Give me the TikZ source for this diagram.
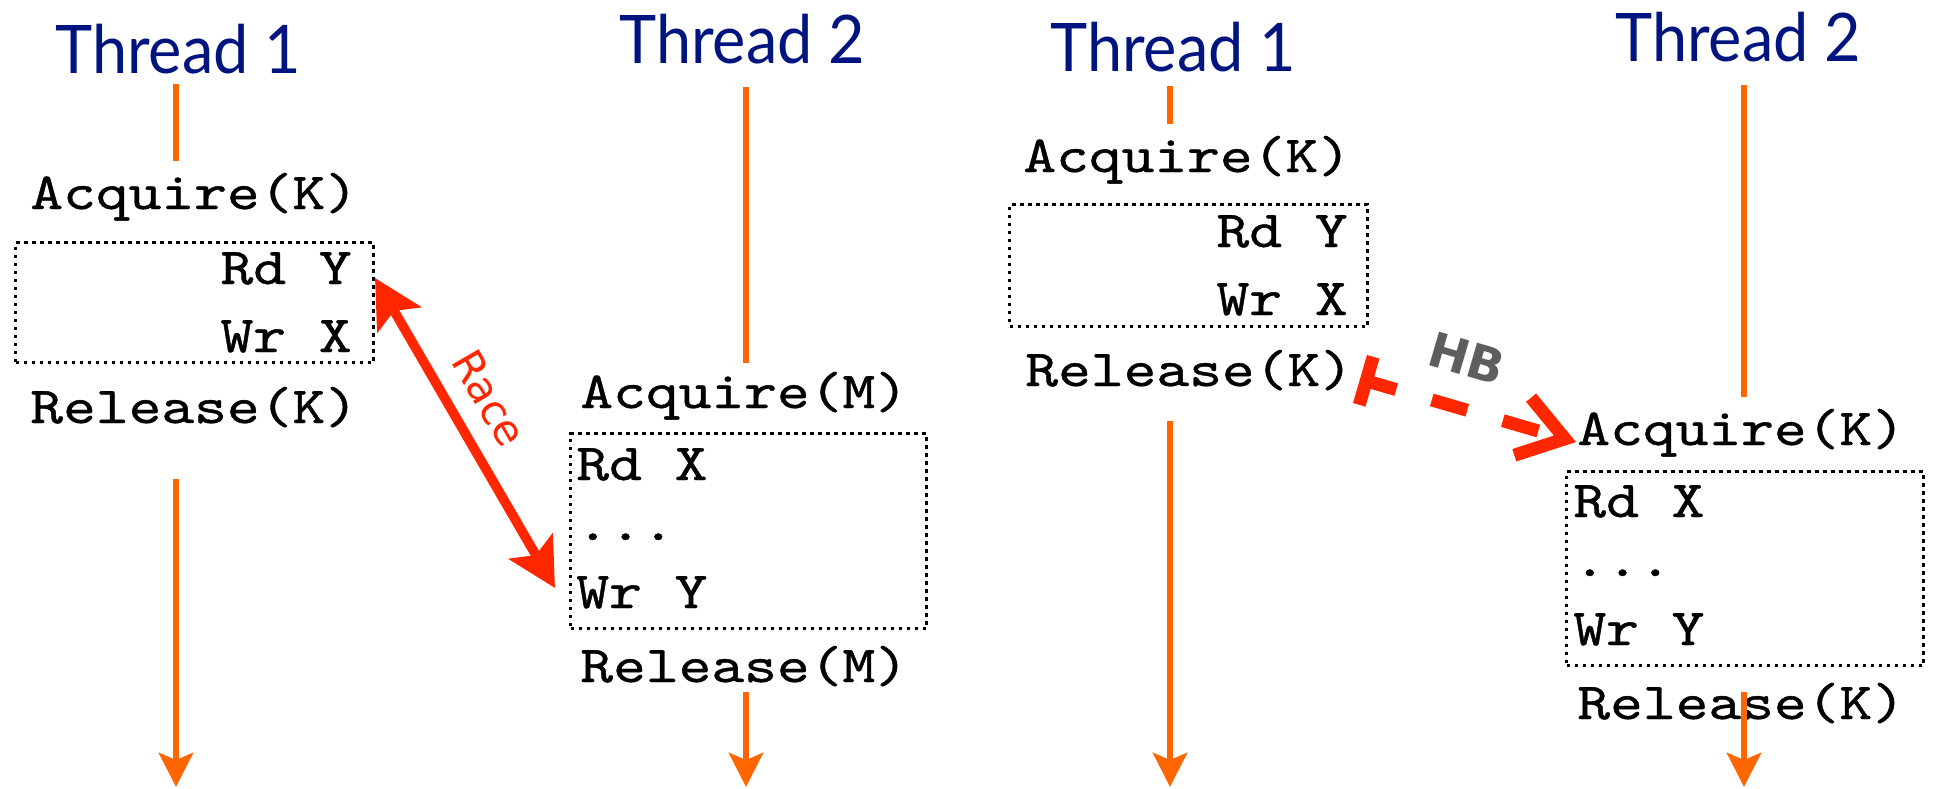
\documentclass[tikz,border=0pt]{standalone}
\usepackage{fontspec}
\usetikzlibrary{arrows.meta}
\newfontfamily\codefont{lmmono10-regular}[Extension=.otf, FakeStretch=1.2, FakeBold=0.8]
\newfontfamily\threadfont{Lato}[FakeStretch=0.94]
\newfontfamily\racefont{DejaVu Sans}
\definecolor{navy}{RGB}{0,20,128}
\definecolor{thr}{RGB}{255,102,0}
\definecolor{kred}{RGB}{255,38,0}
\definecolor{kgray}{RGB}{94,94,94}
\tikzset{
 code/.style={font=\codefont\fontsize{26pt}{26pt}\selectfont, inner sep=0pt, anchor=base west},
 coder/.style={code, anchor=base east},
 title/.style={font=\threadfont\fontsize{33.5pt}{33.5pt}\selectfont, text=navy, inner sep=0pt, anchor=base west},
 dotbox/.style={draw, line width=1.7pt, dash pattern=on 1.7pt off 2.3pt, inner sep=0pt, anchor=north west},
 life/.style={draw=thr, line width=3.2pt},
 lifearrow/.style={life, -{Stealth[length=17pt,width=17pt,inset=3.5pt]}},
 race/.style={draw=kred, line width=4.8pt, {Stealth[length=24pt,width=25pt,inset=5pt]}-{Stealth[length=24pt,width=25pt,inset=5pt]}},
 racelbl/.style={font=\racefont\fontsize{21pt}{21pt}\selectfont, text=kred, inner sep=0pt},
 hb/.style={draw=kred, line width=6.5pt, dash pattern=on 18.5pt off 18.5pt, dash phase=4.5pt, {Bar[width=25pt]}-{Straight Barb[length=22pt,width=30pt,sharp]}},
 hblbl/.style={font=\racefont\bfseries\fontsize{24pt}{24pt}\selectfont, text=kgray, inner sep=0pt},
}
\begin{document}
\begin{tikzpicture}[x=0.5pt,y=-0.5pt]
\useasboundingbox (0,0) rectangle (1933,788);
% ---------- left pair ----------
\node[title] (t1a) at (55,73) {Thread 1};
\node[title] (t2a) at (619,63) {Thread 2};
\node[code] (acqK1) at (30,209) {Acquire(K)};
\node[dotbox, minimum width=179pt, minimum height=60pt] (box1) at (14,241) {};
\node[coder] (rdY1) at (352,284) {Rd Y};
\node[coder] (wrX1) at (352,352) {Wr X};
\node[code] (relK1) at (30,423) {Release(K)};
\node[code] (acqM) at (580,408) {Acquire(M)};
\node[dotbox, minimum width=178pt, minimum height=97.5pt] (box2) at (569,432) {};
\node[code] (rdX2) at (576,480) {Rd X};
\node[code] (dots2) at (576,540) {...};
\node[code] (wrY2) at (576,608) {Wr Y};
\node[code] (relM) at (580,682) {Release(M)};
\coordinate (l1a) at (176,84);  \coordinate (l1b) at (176,161);
\coordinate (l1c) at (176,479); \coordinate (l1d) at (176,787);
\coordinate (l2a) at (746,87);  \coordinate (l2b) at (746,363);
\coordinate (l2c) at (746,692); \coordinate (l2d) at (746,787);
\draw[life] (l1a) -- (l1b);
\draw[lifearrow] (l1c) -- (l1d);
\draw[life] (l2a) -- (l2b);
\draw[lifearrow] (l2c) -- (l2d);
\coordinate (raceA) at (375,278);
\coordinate (raceB) at (555,588);
\draw[race] (raceA) -- node[racelbl, sloped, pos=0.45, above=9pt] (racel) {Race} (raceB);
% ---------- right pair ----------
\node[title] (t1b) at (1050,71) {Thread 1};
\node[title] (t2b) at (1615,61) {Thread 2};
\node[code] (acqK3) at (1023,172) {Acquire(K)};
\node[dotbox, minimum width=179pt, minimum height=61pt] (box3) at (1008,203) {};
\node[coder] (rdY3) at (1348,247) {Rd Y};
\node[coder] (wrX3) at (1348,315) {Wr X};
\node[code] (relK3) at (1025,386) {Release(K)};
\node[code] (acqK4) at (1577,445) {Acquire(K)};
\node[dotbox, minimum width=178.5pt, minimum height=97pt] (box4) at (1565,470) {};
\node[code] (rdX4) at (1573,517) {Rd X};
\node[code] (dots4) at (1573,576) {...};
\node[code] (wrY4) at (1573,645) {Wr Y};
\node[code] (relK4) at (1577,719) {Release(K)};
\coordinate (l3a) at (1170,86);  \coordinate (l3b) at (1170,124);
\coordinate (l3c) at (1170,421); \coordinate (l3d) at (1170,787);
\coordinate (l4a) at (1744,85);  \coordinate (l4b) at (1744,397);
\coordinate (l4c) at (1744,692); \coordinate (l4d) at (1744,787);
\draw[life] (l3a) -- (l3b);
\draw[lifearrow] (l3c) -- (l3d);
\draw[life] (l4a) -- (l4b);
\draw[lifearrow] (l4c) -- (l4d);
\coordinate (hbA) at (1360,379);
\coordinate (hbB) at (1576,442);
\draw[hb] (hbA) -- node[hblbl, sloped, pos=0.43, above=13pt] (hbl) {HB} (hbB);
\end{tikzpicture}
\end{document}
